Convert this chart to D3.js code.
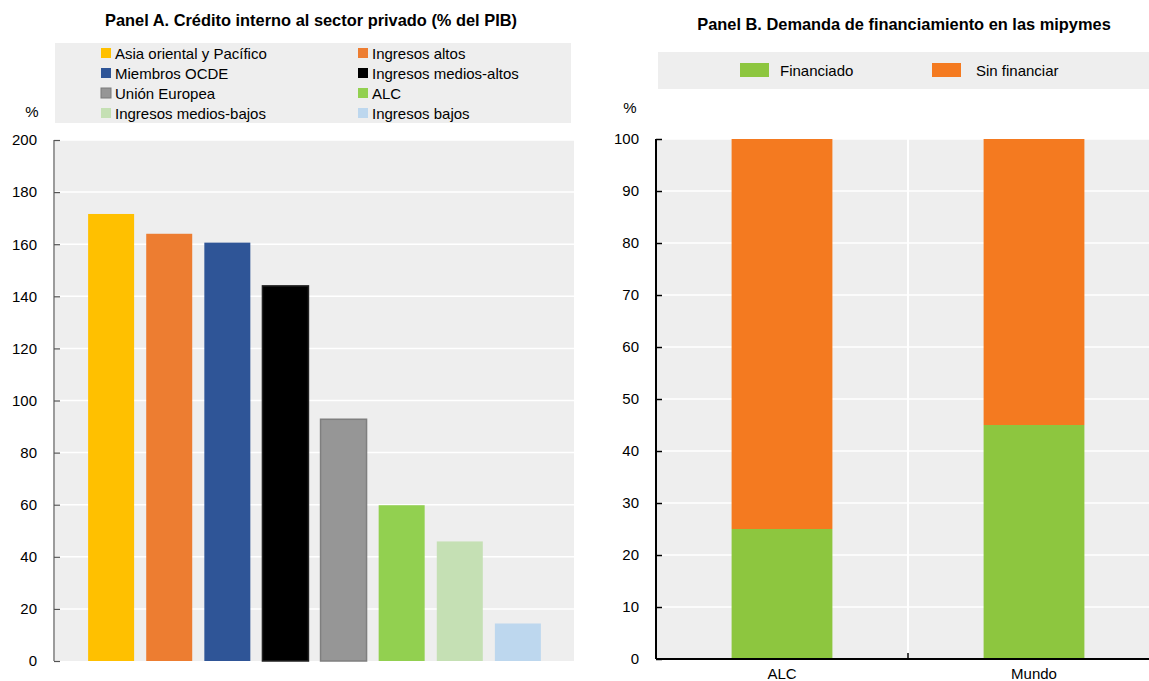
<!DOCTYPE html>
<html>
<head>
<meta charset="utf-8">
<script src="https://cdn.jsdelivr.net/npm/d3@7/dist/d3.min.js"></script>
<style>
  html, body { margin: 0; padding: 0; background: #ffffff; }
  svg { display: block; font-family: "Liberation Sans", Arial, sans-serif; }
  .tick-label { font-size: 15px; fill: #000; }
  .title { font-size: 16.4px; font-weight: bold; fill: #000; }
  .legend-text { font-size: 15px; fill: #000; }
</style>
</head>
<body>
<svg id="chart" width="1149" height="681"></svg>
<script>
// Panel A: domestic credit to the private sector (% of GDP)
const regions = [
  "Asia oriental y Pacífico", "Ingresos altos", "Miembros OCDE", "Ingresos medios-altos",
  "Unión Europea", "ALC", "Ingresos medios-bajos", "Ingresos bajos"
];
const creditValues = [171.6, 164.0, 160.6, 144.0, 92.8, 59.8, 45.9, 14.4];
const regionColors = ["#FFC000", "#ED7D31", "#2F5597", "#000000", "#969696", "#92D050", "#C5E0B4", "#BDD7EE"];
const creditTicks = [0, 20, 40, 60, 80, 100, 120, 140, 160, 180, 200];

// Panel B: SME financing demand
const groups = ["ALC", "Mundo"];
const financedValues = [25, 45];
const unfinancedValues = [75, 55];
const statusLabels = ["Financiado", "Sin financiar"];
const statusColors = ["#8DC63F", "#F47A20"];
const shareTicks = [0, 10, 20, 30, 40, 50, 60, 70, 80, 90, 100];

const svg = d3.select("#chart");
const BG = "#EEEEEE";

// ---------- Panel A ----------
const A = { left: 54, right: 574, top: 140, bottom: 661 };
const yA = d3.scaleLinear().domain([0, 200]).range([A.bottom, A.top]);
const xA = d3.scalePoint().domain(regions).range([53, 576]).padding(1);
const barWA = 46;

const gA = svg.append("g");

gA.append("text").attr("class", "title")
  .attr("x", 311).attr("y", 26).attr("text-anchor", "middle")
  .text("Panel A. Crédito interno al sector privado (% del PIB)");

// legend
gA.append("rect").attr("x", 55).attr("y", 43).attr("width", 516).attr("height", 80).attr("fill", BG);
const legA = gA.selectAll("g.leg").data(regions).join("g")
  .attr("transform", (d, i) => `translate(${i % 2 === 0 ? 101 : 358},${53 + Math.floor(i / 2) * 20})`);
legA.append("rect").attr("x", 0).attr("y", -5).attr("width", 10).attr("height", 10)
  .attr("fill", (d, i) => regionColors[i])
  .attr("stroke", (d, i) => i === 4 ? "#7a7a7a" : "none").attr("stroke-width", 1);
legA.append("text").attr("class", "legend-text").attr("x", 14).attr("y", 5.5).text(d => d);

// plot background and gridlines
gA.append("rect").attr("x", A.left + 1).attr("y", A.top).attr("width", A.right - A.left - 1)
  .attr("height", A.bottom - A.top).attr("fill", BG);
gA.append("g").selectAll("line").data(creditTicks.filter(t => t > 0)).join("line")
  .attr("x1", A.left + 1).attr("x2", A.right)
  .attr("y1", d => yA(d)).attr("y2", d => yA(d))
  .attr("stroke", "#ffffff").attr("stroke-width", 1.5);

// bars
gA.append("g").selectAll("rect").data(creditValues).join("rect")
  .attr("x", (d, i) => xA(regions[i]) - barWA / 2)
  .attr("width", barWA)
  .attr("y", d => yA(d))
  .attr("height", d => yA(0) - yA(d))
  .attr("fill", (d, i) => regionColors[i])
  .attr("stroke", (d, i) => i === 4 ? "#7f7f7f" : (i === 3 ? "#222" : "none"))
  .attr("stroke-width", 1.5);

// y axis
const axisA = d3.axisLeft(yA).tickValues(creditTicks).tickSize(-6).tickPadding(17).tickFormat(d3.format("d"));
const axA = gA.append("g").attr("transform", `translate(${A.left},0)`).call(axisA);
axA.select(".domain").attr("stroke", "#7a7a7a").attr("stroke-width", 1.5)
  .attr("d", `M0,${A.top}V${A.bottom}`);
axA.selectAll(".tick line").attr("stroke", "#555").attr("stroke-width", 1.2);
axA.selectAll(".tick text").attr("class", "tick-label").attr("font-family", null).attr("font-size", null);

gA.append("text").attr("class", "tick-label").attr("x", 32).attr("y", 117).attr("text-anchor", "middle").text("%");

// ---------- Panel B ----------
const B = { left: 656, right: 1160, top: 139, bottom: 659 };
const yB = d3.scaleLinear().domain([0, 100]).range([B.bottom, B.top]);
const xB = d3.scaleBand().domain(groups).range([B.left, B.right]).paddingInner(0).paddingOuter(0);
const barWB = xB.bandwidth() * 0.4;

const gB = svg.append("g");

gB.append("text").attr("class", "title")
  .attr("x", 904).attr("y", 30).attr("text-anchor", "middle")
  .text("Panel B. Demanda de financiamiento en las mipymes");

// legend
gB.append("rect").attr("x", 658).attr("y", 52).attr("width", 500).attr("height", 37).attr("fill", BG);
const legBx = [740, 932];
const legB = gB.selectAll("g.leg").data(statusLabels).join("g")
  .attr("transform", (d, i) => `translate(${legBx[i]},70)`);
legB.append("rect").attr("x", 0).attr("y", -7).attr("width", 29).attr("height", 14)
  .attr("fill", (d, i) => statusColors[i]);
legB.append("text").attr("class", "legend-text").attr("x", (d, i) => i === 0 ? 40 : 44).attr("y", 5.5).text(d => d);

// plot background and gridlines
gB.append("rect").attr("x", B.left).attr("y", B.top).attr("width", B.right - B.left)
  .attr("height", B.bottom - B.top).attr("fill", BG);
gB.append("g").selectAll("line").data(shareTicks.filter(t => t > 0)).join("line")
  .attr("x1", B.left).attr("x2", B.right)
  .attr("y1", d => yB(d)).attr("y2", d => yB(d))
  .attr("stroke", "#ffffff").attr("stroke-width", 1.5);
gB.append("line")
  .attr("x1", xB("Mundo")).attr("x2", xB("Mundo"))
  .attr("y1", B.top).attr("y2", B.bottom)
  .attr("stroke", "#ffffff").attr("stroke-width", 2);

// stacked bars
const stackRows = groups.map((g, i) => ({ group: g, fin: financedValues[i], unf: unfinancedValues[i] }));
const stacked = d3.stack().keys(["fin", "unf"])(stackRows);
gB.append("g").selectAll("g").data(stacked).join("g")
  .attr("fill", (d, i) => statusColors[i])
  .selectAll("rect").data(d => d).join("rect")
  .attr("x", d => xB(d.data.group) + (xB.bandwidth() - barWB) / 2)
  .attr("width", barWB)
  .attr("y", d => yB(d[1]))
  .attr("height", d => yB(d[0]) - yB(d[1]));

// y axis
const axisB = d3.axisLeft(yB).tickValues(shareTicks).tickSize(-6).tickPadding(17).tickFormat(d3.format("d"));
const axB = gB.append("g").attr("transform", `translate(${B.left},0)`).call(axisB);
axB.select(".domain").attr("stroke", "#000").attr("stroke-width", 2)
  .attr("d", `M0,${B.top}V${B.bottom}`);
axB.selectAll(".tick line").attr("stroke", "#000").attr("stroke-width", 1.5);
axB.selectAll(".tick text").attr("class", "tick-label").attr("font-family", null).attr("font-size", null);

// x axis
const axisX = d3.axisBottom(xB).tickSize(0).tickPadding(9);
const axX = gB.append("g").attr("transform", `translate(0,${B.bottom})`).call(axisX);
axX.select(".domain").attr("stroke", "#000").attr("stroke-width", 2)
  .attr("d", `M${B.left},0H${B.right}`);
axX.selectAll(".tick text").attr("class", "tick-label").attr("font-family", null).attr("font-size", null);
gB.append("line")
  .attr("x1", xB("Mundo")).attr("x2", xB("Mundo"))
  .attr("y1", B.bottom).attr("y2", B.bottom - 6)
  .attr("stroke", "#000").attr("stroke-width", 1.5);

gB.append("text").attr("class", "tick-label").attr("x", 630).attr("y", 113).attr("text-anchor", "middle").text("%");
</script>
</body>
</html>
